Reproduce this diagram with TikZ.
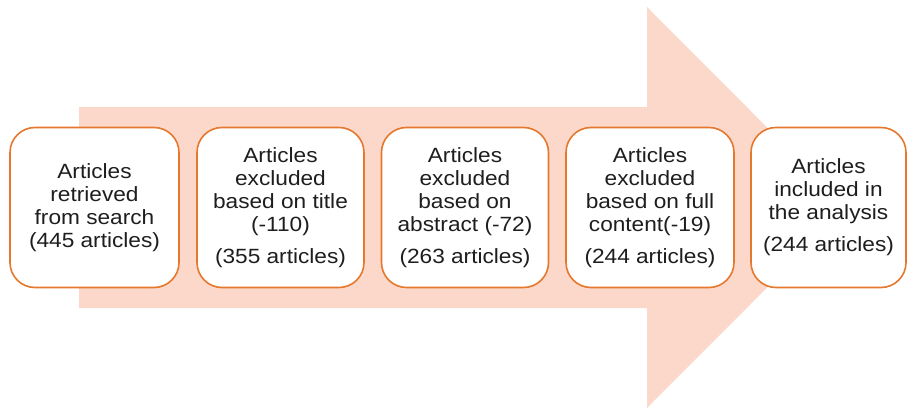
\documentclass[tikz,border=0pt]{standalone}
\usepackage{fontspec}
\setmainfont{Liberation Sans}[FakeStretch=1.1]
\definecolor{arrowfill}{RGB}{252,216,203}
\definecolor{boxline}{RGB}{229,120,45}
\definecolor{textcol}{RGB}{30,30,30}
\begin{document}
\begin{tikzpicture}[x=1pt,y=-1pt,
  stagebox/.style={draw=boxline, line width=1.6pt, fill=white, rounded corners=25pt,
    minimum height=160pt, inner sep=0pt, align=center, text=textcol,
    font=\fontsize{20.6}{23}\selectfont},
  stdbox/.style={stagebox, minimum width=167pt},
]
\useasboundingbox (0,0) rectangle (908,412);
\fill[arrowfill] (79,107) -- (647,107) -- (647,7) -- (847,207.5) -- (647,408) -- (647,308) -- (79,308) -- cycle;
\node[stdbox, minimum width=169pt] (b1) at (94.5,207.5) {Articles\\retrieved\\from search\\(445 articles)};
\node[stdbox] (b2) at (280.5,207.5) {Articles\\excluded\\based on title\\(-110)\\[9pt](355 articles)};
\node[stdbox] (b3) at (465,207.5) {Articles\\excluded\\based on\\abstract (-72)\\[9pt](263 articles)};
\node[stdbox, minimum width=168pt] (b4) at (650,207.5) {Articles\\excluded\\based on full\\content(-19)\\[9pt](244 articles)};
\node[stagebox, minimum width=155pt] (b5) at (828.5,207.5) {Articles\\included in\\the analysis\\[9pt](244 articles)};
\end{tikzpicture}
\end{document}
